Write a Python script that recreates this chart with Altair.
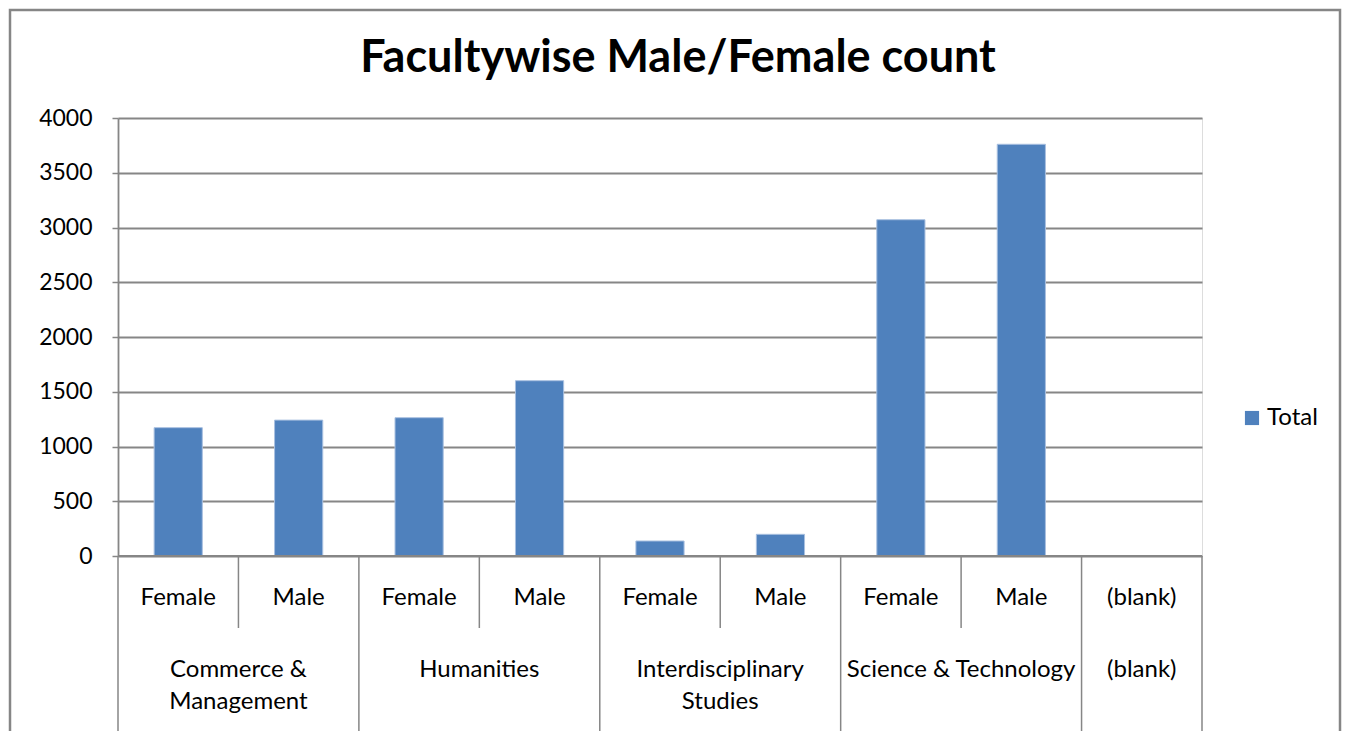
import altair as alt
import pandas as pd

# ---- data ----
faculties = ["Commerce & Management", "Commerce & Management", "Humanities", "Humanities",
             "Interdisciplinary Studies", "Interdisciplinary Studies",
             "Science & Technology", "Science & Technology", "(blank)"]
genders = ["Female", "Male", "Female", "Male", "Female", "Male", "Female", "Male", "(blank)"]
totals = [1172, 1241, 1263, 1601, 137, 198, 3071, 3760, None]

group_names = ["Commerce & Management", "Humanities", "Interdisciplinary Studies",
               "Science & Technology", "(blank)"]
group_line1 = ["Commerce &", "Humanities", "Interdisciplinary", "Science & Technology", "(blank)"]
group_line2 = ["Management", "", "Studies", "", ""]

y_ticks = [0, 500, 1000, 1500, 2000, 2500, 3000, 3500, 4000]
title_text = ["Facultywise Male/Female count"]

# ---- tables built from the lists ----
slots = pd.DataFrame({"faculty": faculties, "gender": genders, "total": totals,
                      "pos": list(range(len(faculties)))})
slots["series"] = "Total"

starts, ends = [], []
for g in group_names:
    idx = [i for i, f in enumerate(faculties) if f == g]
    starts.append(min(idx))
    ends.append(max(idx) + 1)
groups = pd.DataFrame({"name": group_names, "line1": group_line1, "line2": group_line2,
                       "start": starts, "end": ends})
groups["center"] = (groups["start"] + groups["end"]) / 2

group_bounds = pd.DataFrame({"b": sorted(set(starts) | set(ends))})
inner_bounds = pd.DataFrame({"b": [p for p in range(1, len(faculties)) if p not in set(starts)]})

W, H = 1084, 438
FONT = "Lato"
GRAY = "#868686"
BLUE = "#4F81BD"
FS = 24
FSY = 23

xscale = alt.Scale(domain=[0, len(faculties)], nice=False, zero=False)
xq = lambda f: alt.X(f, type="quantitative", scale=xscale, axis=None)

border = alt.Chart(pd.DataFrame({"k": [0]})).mark_rect(
    fill=None, stroke=GRAY, strokeWidth=2.5
).encode(x=alt.value(-108), x2=alt.value(1222), y=alt.value(-108), y2=alt.value(640))

title = alt.Chart(pd.DataFrame({"t": title_text})).mark_text(
    font=FONT, fontSize=45, fontWeight="bold", color="#000000",
    align="center", baseline="middle"
).encode(x=alt.value(560), y=alt.value(-60), text="t:N")

bars = alt.Chart(slots).transform_filter(
    "isValid(datum.total)"
).transform_calculate(
    x0="datum.pos + 0.3", x1="datum.pos + 0.7"
).mark_bar(stroke="#A9C0E0", strokeWidth=1).encode(
    x=xq("x0"),
    x2="x1:Q",
    y=alt.Y("total:Q", scale=alt.Scale(domain=[0, 4000], nice=False),
            axis=alt.Axis(values=y_ticks, format="d", title=None, grid=True, gridColor=GRAY,
                          gridWidth=1.8, domainColor=GRAY, domainWidth=1.8,
                          tickColor=GRAY, tickSize=6, tickWidth=1.5,
                          labelFont=FONT, labelFontSize=FSY, labelColor="#000000",
                          labelPadding=20)),
    y2=alt.datum(0),
    color=alt.Color("series:N", scale=alt.Scale(domain=["Total"], range=[BLUE]),
                    legend=alt.Legend(title=None, orient="none", legendX=1122, legendY=288,
                                      symbolType="square", symbolSize=200,
                                      symbolStrokeWidth=0, labelFont=FONT,
                                      labelFontSize=FS, labelColor="#000000",
                                      labelOffset=3)),
)

baseline = alt.Chart(pd.DataFrame({"k": [0]})).mark_rule(color=GRAY, strokeWidth=1.8).encode(
    x=alt.value(0), x2=alt.value(W), y=alt.value(H))

inner_sep = alt.Chart(inner_bounds).mark_rule(color=GRAY, strokeWidth=1.5).encode(
    x=xq("b"), y=alt.value(H), y2=alt.value(H + 72))

group_sep = alt.Chart(group_bounds).mark_rule(color=GRAY, strokeWidth=1.5).encode(
    x=xq("b"), y=alt.value(H), y2=alt.value(H + 190))

gender_text = alt.Chart(slots).transform_calculate(c="datum.pos + 0.5").mark_text(
    font=FONT, fontSize=FS, color="#000000", baseline="middle", align="center"
).encode(x=xq("c"), y=alt.value(H + 42), text="gender:N")

grp1 = alt.Chart(groups).mark_text(
    font=FONT, fontSize=FS, color="#000000", baseline="middle", align="center"
).encode(x=xq("center"), y=alt.value(H + 114), text="line1:N")

grp2 = alt.Chart(groups).mark_text(
    font=FONT, fontSize=FS, color="#000000", baseline="middle", align="center"
).encode(x=xq("center"), y=alt.value(H + 146), text="line2:N")

chart = alt.layer(border, title, bars, baseline, inner_sep, group_sep,
                  gender_text, grp1, grp2).properties(
    width=W, height=H,
    autosize=alt.AutoSizeParams(type="none"),
    padding={"left": 110, "top": 110, "right": 141, "bottom": 175},
).configure_view(stroke=None).configure(background="#ffffff")

chart.save("out.html", embed_options={"renderer": "svg", "actions": False})
